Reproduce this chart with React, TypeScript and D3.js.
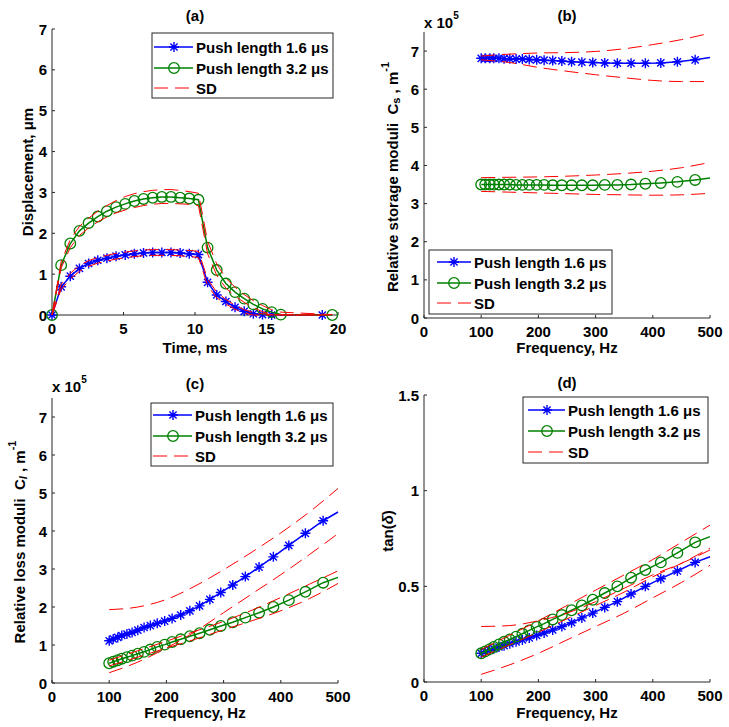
import React from "react";
import * as d3 from "d3";

const FONT = "'Liberation Sans', Arial, Helvetica, sans-serif";
const BLUE = "#0000ff";
const GREEN = "#008000";
const RED = "#ff0000";
const AXIS = "#262626";

// ---------- (a) displacement vs time ----------
const timeBlue = [0, 0.64, 1.28, 1.92, 2.56, 3.2, 3.84, 4.48, 5.12, 5.76, 6.4, 7.04, 7.68, 8.32, 8.96, 9.6, 10.24, 10.88, 11.52, 12.16, 12.8, 13.44, 14.08, 14.72, 15.36, 18.9];
const disp16 = [0, 0.69, 0.95, 1.14, 1.26, 1.34, 1.39, 1.44, 1.47, 1.5, 1.52, 1.53, 1.53, 1.53, 1.52, 1.5, 1.48, 0.8, 0.49, 0.33, 0.19, 0.09, 0.03, 0.01, 0, 0];
const disp16Up = [0, 0.75, 1.02, 1.21, 1.33, 1.41, 1.46, 1.51, 1.54, 1.57, 1.59, 1.6, 1.6, 1.6, 1.59, 1.58, 1.56, 0.88, 0.56, 0.38, 0.24, 0.13, 0.06, 0.03, 0.01, 0];
const disp16Lo = [0, 0.63, 0.88, 1.07, 1.19, 1.27, 1.32, 1.37, 1.4, 1.43, 1.45, 1.46, 1.46, 1.46, 1.45, 1.43, 1.41, 0.72, 0.42, 0.27, 0.14, 0.05, 0, 0, 0, 0];

const timeGreen = [0, 0.64, 1.28, 1.92, 2.56, 3.2, 3.84, 4.48, 5.12, 5.76, 6.4, 7.04, 7.68, 8.32, 8.96, 9.6, 10.24, 10.88, 11.52, 12.16, 12.8, 13.44, 14.08, 14.72, 15.36, 16.0, 19.6];
const disp32 = [0, 1.22, 1.75, 2.06, 2.25, 2.41, 2.54, 2.64, 2.72, 2.79, 2.84, 2.87, 2.89, 2.89, 2.87, 2.85, 2.82, 1.65, 1.1, 0.77, 0.56, 0.4, 0.26, 0.15, 0.07, 0.01, 0];
const disp32Up = [0, 1.3, 1.85, 2.17, 2.37, 2.54, 2.68, 2.8, 2.9, 2.97, 3.02, 3.05, 3.07, 3.07, 3.05, 3.02, 2.98, 1.8, 1.25, 0.9, 0.68, 0.5, 0.35, 0.23, 0.13, 0.07, 0.01];
const disp32Lo = [0, 1.15, 1.65, 1.95, 2.13, 2.28, 2.4, 2.5, 2.57, 2.63, 2.68, 2.71, 2.73, 2.73, 2.72, 2.71, 2.68, 1.5, 0.97, 0.66, 0.46, 0.31, 0.18, 0.08, 0.02, 0, 0];

// ---------- (b)-(d) vs frequency ----------
const markerFreq = [100, 107, 115, 122, 131, 140, 150, 161, 172, 184, 197, 210, 225, 241, 258, 276, 295, 316, 338, 362, 387, 414, 443, 474];
const lineFreq = [...markerFreq, 500];
const sdFreq = [100, 150, 200, 250, 300, 350, 400, 450, 500];

// storage moduli, x 1e5 1/m
const cs16 = [6.81, 6.81, 6.81, 6.81, 6.81, 6.8, 6.8, 6.79, 6.79, 6.78, 6.77, 6.76, 6.75, 6.74, 6.72, 6.71, 6.7, 6.69, 6.68, 6.68, 6.68, 6.69, 6.72, 6.77, 6.83];
const cs32 = [3.5, 3.5, 3.5, 3.5, 3.5, 3.5, 3.5, 3.49, 3.49, 3.49, 3.49, 3.49, 3.48, 3.48, 3.48, 3.48, 3.48, 3.49, 3.49, 3.5, 3.52, 3.54, 3.57, 3.62, 3.67];
const cs16Up = [6.87, 6.92, 6.95, 6.96, 6.99, 7.06, 7.17, 7.3, 7.47];
const cs16Lo = [6.77, 6.7, 6.57, 6.47, 6.38, 6.3, 6.23, 6.2, 6.2];
const cs32Up = [3.68, 3.69, 3.7, 3.72, 3.75, 3.79, 3.85, 3.94, 4.08];
const cs32Lo = [3.32, 3.3, 3.28, 3.26, 3.24, 3.23, 3.22, 3.23, 3.27];

// loss moduli, x 1e5 1/m
const cl16 = [1.11, 1.16, 1.2, 1.25, 1.29, 1.33, 1.39, 1.46, 1.51, 1.57, 1.63, 1.7, 1.79, 1.9, 2.03, 2.2, 2.38, 2.58, 2.8, 3.05, 3.32, 3.62, 3.94, 4.27, 4.5];
const cl32 = [0.52, 0.56, 0.6, 0.64, 0.68, 0.72, 0.77, 0.82, 0.88, 0.95, 1.01, 1.08, 1.15, 1.23, 1.31, 1.4, 1.5, 1.6, 1.72, 1.85, 2.0, 2.18, 2.4, 2.64, 2.78];
const cl16Up = [1.93, 2.0, 2.2, 2.55, 2.98, 3.45, 3.95, 4.5, 5.12];
const cl16Lo = [0.27, 0.55, 0.92, 1.35, 1.85, 2.35, 2.85, 3.38, 3.93];
const cl32Up = [0.6, 0.85, 1.1, 1.36, 1.62, 1.92, 2.25, 2.6, 2.95];
const cl32Lo = [0.45, 0.68, 0.92, 1.15, 1.4, 1.64, 1.9, 2.22, 2.62];

// tan(delta)
const td16 = [0.15, 0.158, 0.166, 0.174, 0.183, 0.19, 0.2, 0.21, 0.22, 0.23, 0.243, 0.256, 0.272, 0.29, 0.31, 0.335, 0.36, 0.39, 0.42, 0.46, 0.5, 0.54, 0.58, 0.625, 0.655];
const td32 = [0.15, 0.16, 0.172, 0.183, 0.196, 0.21, 0.222, 0.237, 0.252, 0.27, 0.288, 0.305, 0.327, 0.35, 0.375, 0.4, 0.43, 0.465, 0.5, 0.545, 0.585, 0.625, 0.675, 0.73, 0.76];
const td16Up = [0.29, 0.295, 0.32, 0.36, 0.42, 0.49, 0.56, 0.62, 0.69];
const td16Lo = [0.04, 0.09, 0.15, 0.22, 0.29, 0.36, 0.44, 0.52, 0.61];
const td32Up = [0.17, 0.245, 0.32, 0.4, 0.48, 0.56, 0.64, 0.73, 0.82];
const td32Lo = [0.13, 0.195, 0.26, 0.33, 0.4, 0.47, 0.55, 0.62, 0.7];

const timeTicks = [0, 5, 10, 15, 20];
const freqTicks = [0, 100, 200, 300, 400, 500];
const modTicks = [0, 1, 2, 3, 4, 5, 6, 7];
const tanTicks = [0, 0.5, 1, 1.5];
const legendLabels = ["Push length 1.6 \u03bcs", "Push length 3.2 \u03bcs", "SD"];

const DASH = "14,7";

interface Curve {
  x: number[];
  y: number[];
}

interface LegendSpec {
  x0: number;
  x1: number;
  y0: number;
  y1: number;
  rows: number[];
  l1: number;
  l2: number;
  mx: number;
  tx: number;
}

interface PanelProps {
  box: { l: number; r: number; t: number; b: number };
  xDomain: [number, number];
  yDomain: [number, number];
  xTicks: number[];
  yTicks: number[];
  title: string;
  titleY: number;
  xLabel: string;
  xLabelY: number;
  yLabel: React.ReactNode;
  yLabelPos: [number, number];
  exponent?: [number, number];
  blue: Curve;
  blueMarks: number;
  green: Curve;
  greenMarks: number;
  sd: Curve[];
  sdCurve: d3.CurveFactory;
  legend: LegendSpec;
}

function Star({ cx, cy }: { cx: number; cy: number }) {
  const a = 5;
  const d = 3.6;
  return (
    <path
      d={`M${cx - a},${cy}L${cx + a},${cy}M${cx},${cy - a}L${cx},${cy + a}M${cx - d},${cy - d}L${cx + d},${cy + d}M${cx - d},${cy + d}L${cx + d},${cy - d}`}
      stroke={BLUE}
      strokeWidth={1.4}
      fill="none"
    />
  );
}

function Ring({ cx, cy }: { cx: number; cy: number }) {
  return <circle cx={cx} cy={cy} r={5.3} fill="none" stroke={GREEN} strokeWidth={1.3} />;
}

function Legend({ spec }: { spec: LegendSpec }) {
  const { x0, x1, y0, y1, rows, l1, l2, mx, tx } = spec;
  return (
    <g>
      <rect x={x0} y={y0} width={x1 - x0} height={y1 - y0} fill="#fff" stroke={AXIS} strokeWidth={1} />
      <line x1={l1} x2={l2} y1={rows[0]} y2={rows[0]} stroke={BLUE} strokeWidth={1.5} />
      <Star cx={mx} cy={rows[0]} />
      <line x1={l1} x2={l2} y1={rows[1]} y2={rows[1]} stroke={GREEN} strokeWidth={1.5} />
      <Ring cx={mx} cy={rows[1]} />
      <line x1={l1} x2={l2} y1={rows[2]} y2={rows[2]} stroke={RED} strokeWidth={1} strokeDasharray={DASH} />
      {legendLabels.map((t, i) => (
        <text key={t} x={tx} y={rows[i]} dominantBaseline="central" fontSize={15} fontWeight="bold">
          {t}
        </text>
      ))}
    </g>
  );
}

function Panel(p: PanelProps) {
  const { l, r, t, b } = p.box;
  const x = d3.scaleLinear().domain(p.xDomain).range([l, r]);
  const y = d3.scaleLinear().domain(p.yDomain).range([b, t]);

  const path = (c: Curve, curve: d3.CurveFactory) =>
    d3
      .line<number>()
      .x((_d, i) => x(c.x[i]))
      .y((d) => y(d))
      .curve(curve)(c.y) ?? "";

  return (
    <g>
      {/* axes */}
      <line x1={l} x2={r} y1={b} y2={b} stroke={AXIS} strokeWidth={1} />
      <line x1={l} x2={l} y1={t} y2={b} stroke={AXIS} strokeWidth={1} />
      {p.xTicks.map((v) => (
        <g key={"x" + v}>
          <line x1={x(v)} x2={x(v)} y1={b} y2={b - 3} stroke={AXIS} />
          <text x={x(v)} y={b + 13} textAnchor="middle" dominantBaseline="central" fontSize={15} fontWeight="bold">
            {v}
          </text>
        </g>
      ))}
      {p.yTicks.map((v) => (
        <g key={"y" + v}>
          <line x1={l} x2={l + 3} y1={y(v)} y2={y(v)} stroke={AXIS} />
          <text x={l - 5} y={y(v)} textAnchor="end" dominantBaseline="central" fontSize={15} fontWeight="bold">
            {String(v)}
          </text>
        </g>
      ))}
      {p.exponent && (
        <text x={p.exponent[0]} y={p.exponent[1]} fontSize={15} fontWeight="bold">
          x 10
          <tspan fontSize={10} dy={-9}>
            5
          </tspan>
        </text>
      )}
      <text x={(l + r) / 2} y={p.titleY} textAnchor="middle" dominantBaseline="central" fontSize={15} fontWeight="bold">
        {p.title}
      </text>
      <text x={(l + r) / 2} y={p.xLabelY} textAnchor="middle" dominantBaseline="central" fontSize={15} fontWeight="bold">
        {p.xLabel}
      </text>
      <text
        transform={`translate(${p.yLabelPos[0]},${p.yLabelPos[1]}) rotate(-90)`}
        textAnchor="middle"
        dominantBaseline="central"
        fontSize={15}
        fontWeight="bold"
      >
        {p.yLabel}
      </text>

      {/* data */}
      <path d={path(p.blue, d3.curveLinear)} fill="none" stroke={BLUE} strokeWidth={1.5} />
      {p.blue.x.slice(0, p.blueMarks).map((v, i) => (
        <Star key={"s" + i} cx={x(v)} cy={y(p.blue.y[i])} />
      ))}
      <path d={path(p.green, d3.curveLinear)} fill="none" stroke={GREEN} strokeWidth={1.5} />
      {p.green.x.slice(0, p.greenMarks).map((v, i) => (
        <Ring key={"c" + i} cx={x(v)} cy={y(p.green.y[i])} />
      ))}
      {p.sd.map((c, i) => (
        <path key={"sd" + i} d={path(c, p.sdCurve)} fill="none" stroke={RED} strokeWidth={1} strokeDasharray={DASH} />
      ))}

      <Legend spec={p.legend} />
    </g>
  );
}

export default function App() {
  return (
    <div style={{ position: "absolute", left: 0, top: 0 }}>
      <svg width={729} height={727} style={{ display: "block", background: "#fff" }} fontFamily={FONT}>
        <Panel
          box={{ l: 52, r: 338, t: 29, b: 315 }}
          xDomain={[0, 20]}
          yDomain={[0, 7]}
          xTicks={timeTicks}
          yTicks={modTicks}
          title="(a)"
          titleY={15}
          xLabel="Time, ms"
          xLabelY={347}
          yLabel={"Displacement, \u03bcm"}
          yLabelPos={[27, 172]}
          blue={{ x: timeBlue, y: disp16 }}
          blueMarks={timeBlue.length}
          green={{ x: timeGreen, y: disp32 }}
          greenMarks={timeGreen.length}
          sd={[
            { x: timeBlue, y: disp16Up },
            { x: timeBlue, y: disp16Lo },
            { x: timeGreen, y: disp32Up },
            { x: timeGreen, y: disp32Lo },
          ]}
          sdCurve={d3.curveLinear}
          legend={{ x0: 152, x1: 333, y0: 33, y1: 98, rows: [47, 68, 88], l1: 154, l2: 193, mx: 174, tx: 196 }}
        />
        <Panel
          box={{ l: 424, r: 710, t: 32, b: 318 }}
          xDomain={[0, 500]}
          yDomain={[0, 7.5]}
          xTicks={freqTicks}
          yTicks={modTicks}
          title="(b)"
          titleY={15}
          xLabel="Frequency, Hz"
          xLabelY={347}
          yLabel={
            <>
              Relative storage moduli{"\u00a0\u00a0"}C
              <tspan fontSize={11} dy={4}>s</tspan>
              <tspan dy={-4}> , m</tspan>
              <tspan fontSize={11} dy={-7}>-1</tspan>
            </>
          }
          yLabelPos={[392, 177]}
          exponent={[424, 28]}
          blue={{ x: lineFreq, y: cs16 }}
          blueMarks={markerFreq.length}
          green={{ x: lineFreq, y: cs32 }}
          greenMarks={markerFreq.length}
          sd={[
            { x: sdFreq, y: cs16Up },
            { x: sdFreq, y: cs16Lo },
            { x: sdFreq, y: cs32Up },
            { x: sdFreq, y: cs32Lo },
          ]}
          sdCurve={d3.curveMonotoneX}
          legend={{ x0: 429, x1: 612, y0: 250, y1: 314, rows: [262, 283, 303], l1: 437, l2: 471, mx: 454, tx: 474 }}
        />
        <Panel
          box={{ l: 52, r: 338, t: 398, b: 683 }}
          xDomain={[0, 500]}
          yDomain={[0, 7.5]}
          xTicks={freqTicks}
          yTicks={modTicks}
          title="(c)"
          titleY={383}
          xLabel="Frequency, Hz"
          xLabelY={712}
          yLabel={
            <>
              Relative loss moduli{"\u00a0\u00a0"}C
              <tspan fontSize={11} dy={4} fontStyle="italic">l</tspan>
              <tspan dy={-4}> , m</tspan>
              <tspan fontSize={11} dy={-7}>-1</tspan>
            </>
          }
          yLabelPos={[19, 542]}
          exponent={[52, 392]}
          blue={{ x: lineFreq, y: cl16 }}
          blueMarks={markerFreq.length}
          green={{ x: lineFreq, y: cl32 }}
          greenMarks={markerFreq.length}
          sd={[
            { x: sdFreq, y: cl16Up },
            { x: sdFreq, y: cl16Lo },
            { x: sdFreq, y: cl32Up },
            { x: sdFreq, y: cl32Lo },
          ]}
          sdCurve={d3.curveMonotoneX}
          legend={{ x0: 151, x1: 333, y0: 403, y1: 466, rows: [415, 436, 456], l1: 153, l2: 192, mx: 173, tx: 195 }}
        />
        <Panel
          box={{ l: 424, r: 710, t: 395, b: 682 }}
          xDomain={[0, 500]}
          yDomain={[0, 1.5]}
          xTicks={freqTicks}
          yTicks={tanTicks}
          title="(d)"
          titleY={382}
          xLabel="Frequency, Hz"
          xLabelY={712}
          yLabel={
            <>
              tan(<tspan fontStyle="italic">{"\u03b4"}</tspan>)
            </>
          }
          yLabelPos={[387, 531]}
          blue={{ x: lineFreq, y: td16 }}
          blueMarks={markerFreq.length}
          green={{ x: lineFreq, y: td32 }}
          greenMarks={markerFreq.length}
          sd={[
            { x: sdFreq, y: td16Up },
            { x: sdFreq, y: td16Lo },
            { x: sdFreq, y: td32Up },
            { x: sdFreq, y: td32Lo },
          ]}
          sdCurve={d3.curveMonotoneX}
          legend={{ x0: 523, x1: 708, y0: 397, y1: 463, rows: [410, 431, 452], l1: 528, l2: 565, mx: 547, tx: 568 }}
        />
      </svg>
    </div>
  );
}
